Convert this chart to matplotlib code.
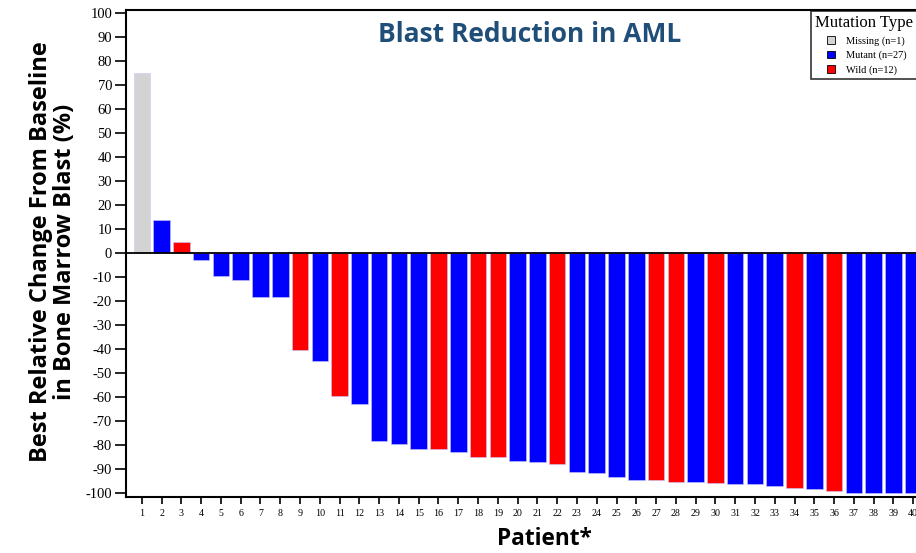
import matplotlib
matplotlib.use("Agg")
import matplotlib.pyplot as plt
from matplotlib.patches import Patch, Rectangle
from matplotlib.legend_handler import HandlerPatch

patients = list(range(1, 41))
values = [75.0, 13.7, 4.7, -2.9, -9.3, -11.3, -18.3, -18.3, -40.3, -45.0,
          -59.6, -62.8, -78.3, -79.7, -81.4, -81.5, -82.9, -85.0, -85.1, -86.4,
          -87.2, -87.8, -91.1, -91.4, -93.3, -94.6, -94.7, -95.3, -95.4, -95.6,
          -96.1, -96.3, -97.2, -97.9, -98.3, -99.0, -99.8, -99.8, -99.8, -99.8]
mutation = ["Missing", "Mutant", "Wild", "Mutant", "Mutant", "Mutant", "Mutant", "Mutant", "Wild", "Mutant",
            "Wild", "Mutant", "Mutant", "Mutant", "Mutant", "Wild", "Mutant", "Wild", "Wild", "Mutant",
            "Mutant", "Wild", "Mutant", "Mutant", "Mutant", "Mutant", "Wild", "Wild", "Mutant", "Wild",
            "Mutant", "Mutant", "Mutant", "Wild", "Mutant", "Wild", "Mutant", "Mutant", "Mutant", "Mutant"]
categories = ["Missing", "Mutant", "Wild"]
category_labels = ["Missing (n=1)", "Mutant (n=27)", "Wild (n=12)"]
palette = {"Missing": "#d3d3d3", "Mutant": "#0000ff", "Wild": "#ff0000"}
yticks = list(range(-100, 101, 10))

fig = plt.figure(figsize=(9.16, 5.53), dpi=100)
W, H = 916, 553
left, right, top, bottom = 126, 929, 9.5, 497
ax = fig.add_axes([left / W, 1 - bottom / H, (right - left) / W, (bottom - top) / H])

colors = [palette[m] for m in mutation]
ax.bar(patients, values, width=0.84, color=colors, edgecolor="#c8c8ff", linewidth=0.4, zorder=2)
ax.axhline(0, color="black", linewidth=1.3, zorder=3)

ax.set_xlim(0.2, 40.8)
ax.set_ylim(-101.6, 101.6)
ax.set_yticks(yticks)
ax.set_yticklabels([str(t) for t in yticks], fontfamily="Liberation Serif", fontsize=10.5)
ax.set_xticks(patients)
ax.set_xticklabels([str(p) for p in patients], fontfamily="Liberation Serif", fontsize=7.2)
ax.tick_params(axis="y", direction="out", length=8, width=1.2, pad=2)
ax.tick_params(axis="x", direction="out", length=5, width=1.2, pad=4)
for s in ["left", "bottom", "top", "right"]:
    ax.spines[s].set_linewidth(1.5)

fig.text(530 / W, 1 - 35 / H, "Blast Reduction in AML", ha="center", va="center",
         fontfamily="Open Sans", fontweight="bold", fontsize=19, color="#1f4e79")
fig.text(53 / W, 1 - 252 / H, "Best Relative Change From Baseline\nin Bone Marrow Blast (%)",
         ha="center", va="center", rotation=90, fontfamily="Open Sans", fontweight="bold",
         fontsize=17, linespacing=1.0)
fig.text(544 / W, 1 - 539 / H, "Patient*", ha="center", va="center",
         fontfamily="Open Sans", fontweight="bold", fontsize=16.3)


def small_square(legend, orig_handle, xdescent, ydescent, width, height, fontsize):
    s = 5.5
    return Rectangle((-xdescent + width - s, -ydescent + (height - s) / 2), s, s)


handles = [Patch(facecolor=palette[c], edgecolor="black", linewidth=0.6) for c in categories]
leg = fig.legend(handles, category_labels, title="Mutation Type", loc="upper left",
                 bbox_to_anchor=(811 / W, 1 - 10.7 / H, 125 / W, 0), mode="expand",
                 alignment="left", frameon=True, fancybox=False,
                 prop={"family": "Liberation Serif", "size": 7.5},
                 title_fontproperties={"family": "Liberation Serif", "size": 12.0},
                 handler_map={Patch: HandlerPatch(patch_func=small_square)},
                 handlelength=1.85, handleheight=0.6, handletextpad=1.05, labelspacing=0.48,
                 borderpad=0.42, borderaxespad=0)
leg.get_frame().set_edgecolor("black")
leg.get_frame().set_linewidth(1.2)

fig.savefig("out.png", dpi=100)
